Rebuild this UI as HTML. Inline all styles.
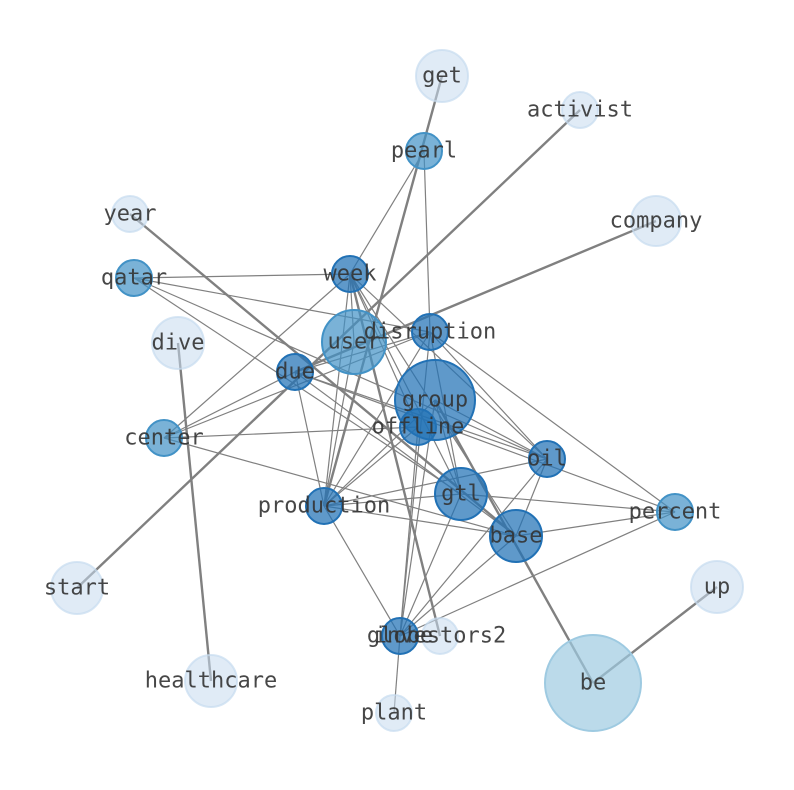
<!DOCTYPE html>
<html><head><meta charset="utf-8"><style>html,body{margin:0;padding:0;background:#fff}svg{display:block}</style></head>
<body>
<svg width="794" height="790" viewBox="0 0 794 790" xmlns="http://www.w3.org/2000/svg">
<g stroke="#808080" stroke-width="1.2" fill="none">
<line x1="134" y1="278" x2="350" y2="274"/>
<line x1="134" y1="278" x2="547" y2="459"/>
<line x1="134" y1="278" x2="430" y2="332"/>
<line x1="134" y1="278" x2="461" y2="494"/>
<line x1="350" y1="274" x2="547" y2="459"/>
<line x1="350" y1="274" x2="516" y2="536"/>
<line x1="350" y1="274" x2="461" y2="494"/>
<line x1="350" y1="274" x2="164" y2="438"/>
<line x1="350" y1="274" x2="324" y2="506"/>
<line x1="350" y1="274" x2="418" y2="427"/>
<line x1="424" y1="151" x2="430" y2="332"/>
<line x1="424" y1="151" x2="350" y2="274"/>
<line x1="430" y1="332" x2="164" y2="438"/>
<line x1="430" y1="332" x2="295" y2="372"/>
<line x1="430" y1="332" x2="324" y2="506"/>
<line x1="430" y1="332" x2="547" y2="459"/>
<line x1="430" y1="332" x2="461" y2="494"/>
<line x1="430" y1="332" x2="675" y2="512"/>
<line x1="295" y1="372" x2="675" y2="512"/>
<line x1="295" y1="372" x2="547" y2="459"/>
<line x1="295" y1="372" x2="164" y2="438"/>
<line x1="295" y1="372" x2="324" y2="506"/>
<line x1="295" y1="372" x2="516" y2="536"/>
<line x1="164" y1="438" x2="418" y2="427"/>
<line x1="164" y1="438" x2="516" y2="536"/>
<line x1="435" y1="400" x2="547" y2="459"/>
<line x1="435" y1="400" x2="324" y2="506"/>
<line x1="435" y1="400" x2="400" y2="636"/>
<line x1="435" y1="400" x2="461" y2="494"/>
<line x1="418" y1="427" x2="400" y2="636"/>
<line x1="418" y1="427" x2="324" y2="506"/>
<line x1="547" y1="459" x2="324" y2="506"/>
<line x1="547" y1="459" x2="400" y2="636"/>
<line x1="547" y1="459" x2="516" y2="536"/>
<line x1="461" y1="494" x2="675" y2="512"/>
<line x1="461" y1="494" x2="400" y2="636"/>
<line x1="324" y1="506" x2="516" y2="536"/>
<line x1="324" y1="506" x2="400" y2="636"/>
<line x1="324" y1="506" x2="461" y2="494"/>
<line x1="516" y1="536" x2="400" y2="636"/>
<line x1="516" y1="536" x2="675" y2="512"/>
<line x1="675" y1="512" x2="400" y2="636"/>
<line x1="400" y1="636" x2="394" y2="713"/>
<line x1="354" y1="342" x2="324" y2="506"/>
<line x1="350" y1="274" x2="354" y2="342"/>
<line x1="430" y1="332" x2="400" y2="636"/>
</g>
<g stroke="#808080" stroke-width="2.4" fill="none">
<line x1="130" y1="214" x2="516" y2="536"/>
<line x1="656" y1="221" x2="295" y2="372"/>
<line x1="580" y1="110" x2="77" y2="588"/>
<line x1="442" y1="76" x2="324" y2="506"/>
<line x1="350" y1="274" x2="440" y2="636"/>
<line x1="178" y1="343" x2="211" y2="681"/>
<line x1="717" y1="587" x2="593" y2="683"/>
<line x1="435" y1="400" x2="593" y2="683"/>
</g>
<g stroke-width="2">
<g fill="#c6dbef" stroke="#c6dbef" fill-opacity="0.55" stroke-opacity="0.7">
<circle cx="442" cy="76" r="26"/><circle cx="580" cy="110" r="18"/><circle cx="130" cy="214" r="18"/>
<circle cx="656" cy="221" r="25"/><circle cx="178" cy="343" r="26"/><circle cx="77" cy="588" r="26"/>
<circle cx="717" cy="587" r="26"/><circle cx="440" cy="636" r="18"/><circle cx="211" cy="681" r="26"/>
<circle cx="394" cy="713" r="18"/>
</g>
<circle cx="593" cy="683" r="48" fill="#9ecae1" stroke="#9ecae1" fill-opacity="0.7"/>
<g fill="#4292c6" stroke="#4292c6" fill-opacity="0.7">
<circle cx="424" cy="151" r="18"/><circle cx="134" cy="278" r="18"/><circle cx="354" cy="342" r="32"/>
<circle cx="164" cy="438" r="18"/><circle cx="675" cy="512" r="18"/>
</g>
<g fill="#2171b5" stroke="#2171b5" fill-opacity="0.72">
<circle cx="350" cy="274" r="18"/><circle cx="430" cy="332" r="18"/><circle cx="295" cy="372" r="18"/>
<circle cx="435" cy="400" r="40"/><circle cx="418" cy="427" r="18"/><circle cx="547" cy="459" r="18"/>
<circle cx="324" cy="506" r="18"/><circle cx="461" cy="494" r="26"/><circle cx="516" cy="536" r="26"/>
<circle cx="400" cy="636" r="18"/>
</g>
</g>
<g font-family="DejaVu Sans Mono, Liberation Mono, monospace" font-size="22" fill="#333" fill-opacity="0.9" text-anchor="middle" dominant-baseline="central">
<text x="442" y="76">get</text><text x="580" y="110">activist</text><text x="424" y="151">pearl</text>
<text x="130" y="214">year</text><text x="656" y="221">company</text><text x="134" y="278">qatar</text>
<text x="350" y="274">week</text><text x="178" y="343">dive</text><text x="354" y="342">user</text>
<text x="430" y="332">disruption</text><text x="295" y="372">due</text><text x="435" y="400">group</text>
<text x="418" y="427">offline</text><text x="164" y="438">center</text><text x="547" y="459">oil</text>
<text x="324" y="506">production</text><text x="461" y="494">gtl</text><text x="675" y="512">percent</text>
<text x="516" y="536">base</text><text x="77" y="588">start</text><text x="717" y="587">up</text>
<text x="400" y="636">globe</text><text x="440" y="636">investors2</text><text x="211" y="681">healthcare</text>
<text x="593" y="683">be</text><text x="394" y="713">plant</text>
</g>
</svg>
</body></html>
